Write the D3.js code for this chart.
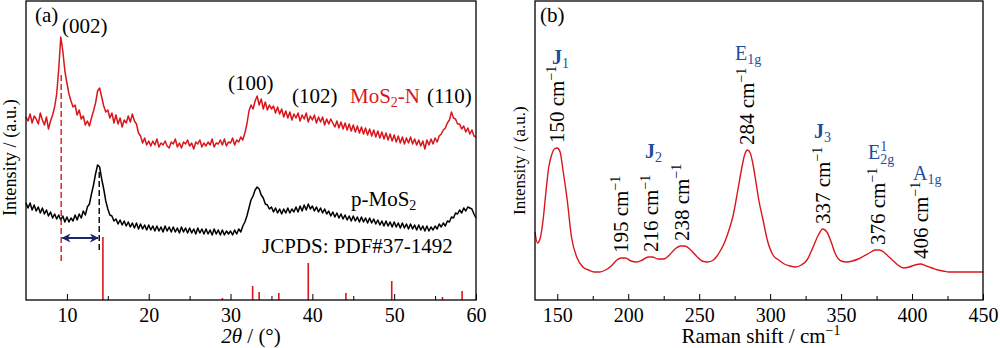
<!DOCTYPE html>
<html>
<head>
<meta charset="utf-8">
<script src="https://d3js.org/d3.v7.min.js"></script>
<style>
body { margin: 0; background: #fff; }
text { font-family: "Liberation Serif", "Times New Roman", serif; }
</style>
</head>
<body>
<div id="chart"></div>
<script>

// ---- data: panel (a) XRD, 2theta grid 5..60 step 0.25 ----
var twoTheta = d3.range(0, 221).map(function(i){ return 5 + i * 0.25; });

var xrdMoS2N = [
 183,179,186,177, 184,181,176,187, 180,175,183,171, 179,185,193,206,
 231,263,249,229, 217,206,199,193, 195,185,190,181, 184,175,179,174,
 182,189,197,209, 212,203,194,188, 190,182,187,177, 185,176,182,173,
 180,177,184,178, 186,179,176,167, 164,157,162,155, 159,154,159,155,
 161,153,157,155, 159,154,152,158, 156,161,153,157, 152,158,156,160,
 154,157,151,158, 156,160,153,157, 154,158,155,161, 153,157,156,160,
 155,161,154,158, 157,162,155,160, 158,163,160,167, 176,189,195,191,
 199,204,195,201, 191,198,190,195, 191,194,187,193, 186,191,183,189,
 182,188,180,186, 182,187,179,185, 181,187,178,184, 180,185,177,183,
 178,183,175,181, 176,181,177,173, 179,172,178,171, 177,170,176,169,
 175,168,174,167, 173,166,172,165, 171,164,170,163, 169,162,168,161,
 167,160,166,159, 165,158,164,157, 163,156,162,157, 163,156,161,155,
 160,154,159,151, 160,155,161,156, 162,158,164,166, 170,172,177,180,
 188,182,181,176, 176,171,174,168, 172,166,170,164, 163
];

var xrdPMoS2 = [
 97,92,97,90, 95,89,93,87, 92,86,90,84, 88,82,86,81,
 85,80,84,78, 83,78,82,79, 85,80,86,82, 89,85,93,96,
 106,115,126,135, 133,121,111,99, 91,85,84,79, 81,76,80,75,
 79,74,78,73, 77,72,77,71, 76,71,75,70, 75,70,74,69,
 74,69,73,68, 74,69,73,68, 73,68,72,67, 73,68,72,67,
 72,67,71,66, 72,67,71,66, 71,66,70,65, 71,66,70,65,
 70,65,69,66, 69,65,70,66, 71,68,74,78, 84,92,100,104,
 110,113,111,105, 102,96,95,91, 93,88,92,87, 91,86,91,87,
 92,87,91,88, 93,88,94,89, 95,90,96,91, 94,89,93,88,
 92,87,91,86, 89,84,88,83, 87,82,86,81, 85,80,84,79,
 84,79,83,78, 83,78,82,77, 82,77,81,76, 80,75,79,74,
 79,74,78,73, 78,73,77,72, 77,72,76,71, 76,71,75,70,
 75,70,74,69, 74,69,73,70, 74,71,76,73, 77,74,79,78,
 83,82,87,86, 90,87,92,89, 93,92,91,86, 82
];

// JCPDS 37-1492 reference sticks
var refPos    = [14.4, 29.0, 32.7, 33.5, 35.9, 39.5, 44.1, 49.7, 55.9, 58.3];
var refHeight = [63, 2, 14, 8, 7, 37, 7, 19, 3, 9];

var xrdTicks = [10, 20, 30, 40, 50, 60];
var xrdMinor = [15, 25, 35, 45, 55];

// ---- data: panel (b) Raman ----
var ramanShift = [134.3,136,138,140,142,144,146,148,150,152,154,157,160,164,168,172,176,180,184,188,
  192,195,198,202,206,210,214,217,221,225,229,233,237,240,244,248,252,256,260,264,268,271,274,277,280,282,
  284,286,288,290,292,295,298,302,306,310,314,318,322,326,330,334,337,340,343,346,350,354,358,362,366,370,
  374,377,380,383,386,390,394,398,402,406,410,414,418,422,426,432,440,450];
var ramanInt = [68,57,62,80,108,133,145,151,152,148,130,100,63,42,33,30,28,28,30,34,
  40,42,42,39,38,40,43,43,41,41,45,51,54,54,50,44,39,38,40,47,58,70,85,108,132,145,
  150,147,135,118,100,80,60,45,40,36,34,33,35,40,52,65,71,68,58,46,39,38,39,41,44,47,
  50,50,48,44,40,35,32,33,35,36,34,32,30,29,28,28,28,28];

var peakLabels = [150, 195, 216, 238, 284, 337, 376, 406];
var ramanTicks = [150, 200, 250, 300, 350, 400, 450];
var ramanMinor = [175, 225, 275, 325, 375, 425];

var RED = "#d9161c", BLUE = "#1f4c9c", NAVY = "#1a2668";

var svg = d3.select("#chart").append("svg")
  .attr("width", 1000).attr("height", 348)
  .style("display", "block");

svg.append("defs").append("marker")
  .attr("id", "arr")
  .attr("viewBox", "0 0 10 10")
  .attr("refX", 9).attr("refY", 5)
  .attr("markerWidth", 9).attr("markerHeight", 9)
  .attr("markerUnits", "userSpaceOnUse")
  .attr("orient", "auto-start-reverse")
  .append("path").attr("d", "M0,0 L10,5 L0,10 L3,5 Z").attr("fill", NAVY);

// shared y scale (a.u.)
var y = d3.scaleLinear().domain([0, 299]).range([300, 1]);

function frame(x0, x1) {
  svg.append("rect")
    .attr("x", x0).attr("y", 1)
    .attr("width", x1 - x0).attr("height", 299)
    .attr("fill", "none").attr("stroke", "#000").attr("stroke-width", 1.3);
}

function xAxis(x, major, minor) {
  var g = svg.append("g").attr("transform", "translate(0,300)");
  g.call(d3.axisBottom(x).tickValues(major).tickSizeInner(-6).tickSizeOuter(0).tickPadding(8));
  g.select(".domain").remove();
  g.selectAll("text").attr("font-size", 20).attr("fill", "#000");
  var m = svg.append("g").attr("transform", "translate(0,300)");
  m.call(d3.axisBottom(x).tickValues(minor).tickSizeInner(-4).tickSizeOuter(0).tickFormat(""));
  m.select(".domain").remove();
}

// =============== panel (a) ===============
var xa = d3.scaleLinear().domain([5, 60]).range([26, 476]);

var lineA = d3.line()
  .x(function(d, i){ return xa(twoTheta[i]); })
  .y(function(d){ return y(d); });

svg.append("path").datum(xrdMoS2N)
  .attr("d", lineA).attr("fill", "none")
  .attr("stroke", RED).attr("stroke-width", 1.5).attr("stroke-linejoin", "round");

svg.append("path").datum(xrdPMoS2)
  .attr("d", lineA).attr("fill", "none")
  .attr("stroke", "#000").attr("stroke-width", 1.5).attr("stroke-linejoin", "round");

// reference sticks
svg.append("g").selectAll("line")
  .data(refPos).enter().append("line")
  .attr("x1", function(d){ return xa(d); })
  .attr("x2", function(d){ return xa(d); })
  .attr("y1", y(0))
  .attr("y2", function(d, i){ return y(refHeight[i]); })
  .attr("stroke", RED).attr("stroke-width", 1.6);

// dashed guide lines and shift arrow
svg.append("line")
  .attr("x1", xa(9.3)).attr("x2", xa(9.3))
  .attr("y1", y(225)).attr("y2", y(38))
  .attr("stroke", RED).attr("stroke-width", 1.4).attr("stroke-dasharray", "6,3");
svg.append("line")
  .attr("x1", xa(13.95)).attr("x2", xa(13.95))
  .attr("y1", y(128)).attr("y2", y(47))
  .attr("stroke", "#000").attr("stroke-width", 1.4).attr("stroke-dasharray", "6,3");
svg.append("line")
  .attr("x1", xa(9.45)).attr("x2", xa(13.8))
  .attr("y1", y(62)).attr("y2", y(62))
  .attr("stroke", NAVY).attr("stroke-width", 2)
  .attr("marker-start", "url(#arr)").attr("marker-end", "url(#arr)");

frame(26, 476);
xAxis(xa, xrdTicks, xrdMinor);

function label(x, yy, txt, opt) {
  opt = opt || {};
  return svg.append("text").attr("x", x).attr("y", yy)
    .attr("font-size", opt.size || 21)
    .attr("fill", opt.color || "#000")
    .attr("text-anchor", opt.anchor || "start")
    .text(txt);
}

label(35, 22, "(a)");
label(62, 33, "(002)");
label(228, 90, "(100)");
label(292, 103, "(102)");
label(427, 103, "(110)");

var mn = label(350, 103, "MoS", {color: RED});
mn.append("tspan").attr("font-size", 14).attr("dy", 4).text("2");
mn.append("tspan").attr("dy", -4).text("-N");

var pm = label(351, 206, "p-MoS");
pm.append("tspan").attr("font-size", 14).attr("dy", 4).text("2");

label(262, 253, "JCPDS: PDF#37-1492");

// axis titles (a)
var xt = label(251, 343, "", {anchor: "middle"});
xt.append("tspan").attr("font-style", "italic").text("2\u03b8");
xt.append("tspan").text(" / (\u00b0)");

svg.append("text")
  .attr("transform", "translate(16,216) rotate(-90)")
  .attr("font-size", 18.3).text("Intensity / (a.u.)");

// =============== panel (b) ===============
var xb = d3.scaleLinear().domain([134.3, 450]).range([535, 983]);

var lineB = d3.line()
  .curve(d3.curveMonotoneX)
  .x(function(d, i){ return xb(ramanShift[i]); })
  .y(function(d){ return y(d); });

svg.append("path").datum(ramanInt)
  .attr("d", lineB).attr("fill", "none")
  .attr("stroke", RED).attr("stroke-width", 1.4);

frame(535, 983);
xAxis(xb, ramanTicks, ramanMinor);

label(540, 22, "(b)");

// peak position labels (rotated), placed just above each peak
var peakY = function(p) {
  var best = 0;
  ramanShift.forEach(function(s, i){ if (Math.abs(s - p) < Math.abs(ramanShift[best] - p)) best = i; });
  return ramanInt[best];
};
peakLabels.forEach(function(p) {
  var t = svg.append("text")
    .attr("transform", "translate(" + (xb(p) + 7) + "," + (y(peakY(p)) - 5) + ") rotate(-90)")
    .attr("font-size", 21).text(p + " cm");
  t.append("tspan").attr("font-size", 14).attr("dy", -8).text("\u22121");
});

// mode labels
function mode(x, yy, main, sub, sup, bold) {
  var t = svg.append("text").attr("x", x).attr("y", yy)
    .attr("font-size", 20).attr("fill", BLUE)
    .attr("font-weight", bold ? "bold" : "normal").text(main);
  if (sup) {
    t.append("tspan").attr("font-size", 14).attr("dy", -8).text(sup);
    t.append("tspan").attr("font-size", 14).attr("dx", -7).attr("dy", 13).text(sub);
  } else {
    t.append("tspan").attr("font-size", 14).attr("font-weight", "normal").attr("dy", 4).text(sub);
  }
}
mode(552, 64, "J", "1", null, true);
mode(735, 60, "E", "1g", null, false);
mode(645, 158, "J", "2", null, true);
mode(814, 138, "J", "3", null, true);
mode(868, 159, "E", "2g", "1", false);
mode(913, 180, "A", "1g", null, false);

var rt = label(761, 343, "Raman shift / cm", {anchor: "middle"});
rt.append("tspan").attr("font-size", 14).attr("dy", -8).text("\u22121");

svg.append("text")
  .attr("transform", "translate(525,215) rotate(-90)")
  .attr("font-size", 17).text("Intensity / (a.u.)");

</script>
</body>
</html>
